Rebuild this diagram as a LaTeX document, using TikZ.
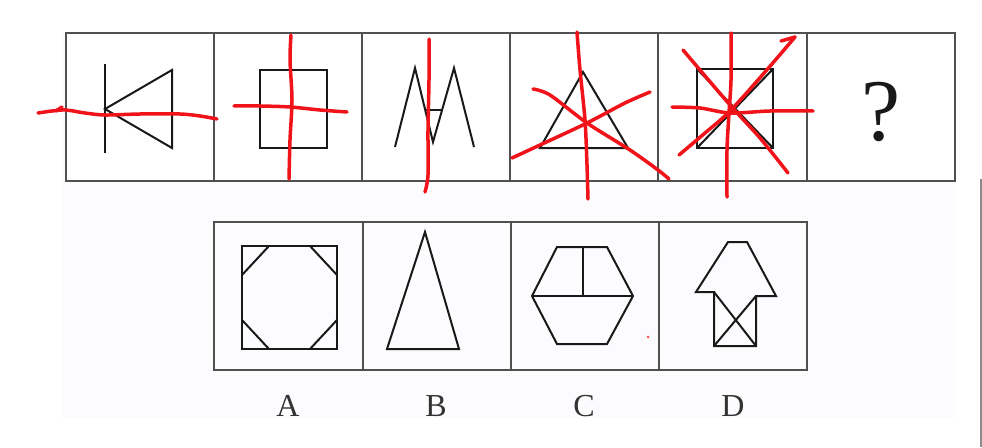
\documentclass[tikz,border=0pt]{standalone}
\usepackage{fontspec}
\setmainfont{Liberation Serif}
\definecolor{panelbg}{HTML}{FCFBFE}
\definecolor{framegray}{HTML}{505050}
\definecolor{inkred}{HTML}{F0141A}
\begin{document}
\begin{tikzpicture}[x=1pt,y=-1pt,
  cellframe/.style={draw=framegray,line width=1.8pt},
  figline/.style={draw=black!90,line width=2pt,line join=miter},
  redmark/.style={draw=inkred,line width=3.5pt,line cap=round,line join=round},
  lab/.style={font=\fontsize{32}{32}\selectfont,inner sep=0pt,text=black!80}]
\useasboundingbox (0,0) rectangle (982,447);
\fill[white] (0,0) rectangle (982,447);
\fill[panelbg] (62,33) rectangle (956,418);
\draw[draw=black!45,line width=1.5pt] (981,179) -- (981,447);

% ---- top row frame ----
\fill[white] (66,33) rectangle (955,181);
\draw[cellframe] (66,33) rectangle (955,181);
\foreach \x in {214,362,510,658,807} \draw[cellframe] (\x,33) -- (\x,181);

% ---- bottom row frame ----
\draw[cellframe] (214,222) rectangle (807,370);
\foreach \x in {363,511,659} \draw[cellframe] (\x,222) -- (\x,370);

% ---- cell 1: diode ----
\draw[figline] (105,64) -- (105,153);
\draw[figline] (105,109) -- (172,70) -- (172,148) -- cycle;
% ---- cell 2: square ----
\draw[figline] (260,70) rectangle (327,148);
% ---- cell 3: M ----
\draw[figline] (395,147) -- (415,68) -- (433,142) -- (454,68) -- (474,147);
\draw[figline] (425,110) -- (442,110);
% ---- cell 4: triangle ----
\draw[figline] (583,72) -- (540,148) -- (628,148) -- cycle;
% ---- cell 5: square with diagonals ----
\draw[figline] (697,69) rectangle (773,148);
\draw[figline] (697,69) -- (773,148);
\draw[figline] (697,148) -- (773,69);
% ---- cell 6: question ----
\node[inner sep=0pt,font=\fontsize{88}{88}\selectfont,text=black!90] (qmark) at (881,112) {?};

% ---- options ----
% A
\draw[figline] (242,246) rectangle (337,349);
\draw[figline] (242,275) -- (269,246);
\draw[figline] (310,246) -- (337,275);
\draw[figline] (242,320) -- (269,349);
\draw[figline] (310,349) -- (337,320);
% B
\draw[figline] (425,232) -- (387,349) -- (459,349) -- cycle;
% C
\draw[figline] (557,247) -- (607,247) -- (633,296) -- (607,344) -- (557,344) -- (532,296) -- cycle;
\draw[figline] (532,296) -- (633,296);
\draw[figline] (583,247) -- (583,296);
\fill[inkred!70] (648,337) circle (1.5);
% D
\draw[figline] (714,292) -- (696,292) -- (728,242) -- (747,242) -- (776,296) -- (756,296) -- (756,346) -- (714,346) -- cycle;
\draw[figline] (714,292) -- (756,346);
\draw[figline] (714,346) -- (756,296);

% labels
\node[lab] (labA) at (288,406) {A};
\node[lab] (labB) at (436,406) {B};
\node[lab] (labC) at (584,406) {C};
\node[lab] (labD) at (733,406) {D};

% ---- red marks ----
% cell 1
\draw[redmark] plot[smooth] coordinates {(38,113) (52,111) (66,110) (85,113) (105,115) (140,114) (180,114) (200,116) (217,119)};
\draw[redmark] (56,111) -- (62,107);
% cell 2
\draw[redmark] plot[smooth] coordinates {(291,35) (290,60) (292,100) (290,140) (289,179)};
\draw[redmark] plot[smooth] coordinates {(234,106) (260,106) (290,107) (320,110) (347,112)};
% cell 3
\draw[redmark] plot[smooth] coordinates {(429,39) (429,80) (428,130) (428,175) (425,192)};
% cell 4
\draw[redmark] plot[smooth] coordinates {(577,32) (580,70) (585,120) (587,165) (588,199)};
\draw[redmark] plot[smooth] coordinates {(533,89) (550,95) (587,123) (630,150) (658,170) (669,179)};
\draw[redmark] plot[smooth] coordinates {(512,158) (540,145) (587,123) (625,103) (650,92)};
% cell 5
\draw[redmark] plot[smooth] coordinates {(731,33) (731,80) (729,113) (727,150) (727,197)};
\draw[redmark] plot[smooth] coordinates {(672,107) (700,108) (730,113) (770,111) (813,111)};
\draw[redmark] plot[smooth] coordinates {(683,50) (730,105) (760,138) (788,173)};
\draw[redmark] plot[smooth] coordinates {(679,155) (705,133) (730,111) (765,72) (795,37)};
\draw[redmark] (781,41) -- (795,37);
\end{tikzpicture}
\end{document}
